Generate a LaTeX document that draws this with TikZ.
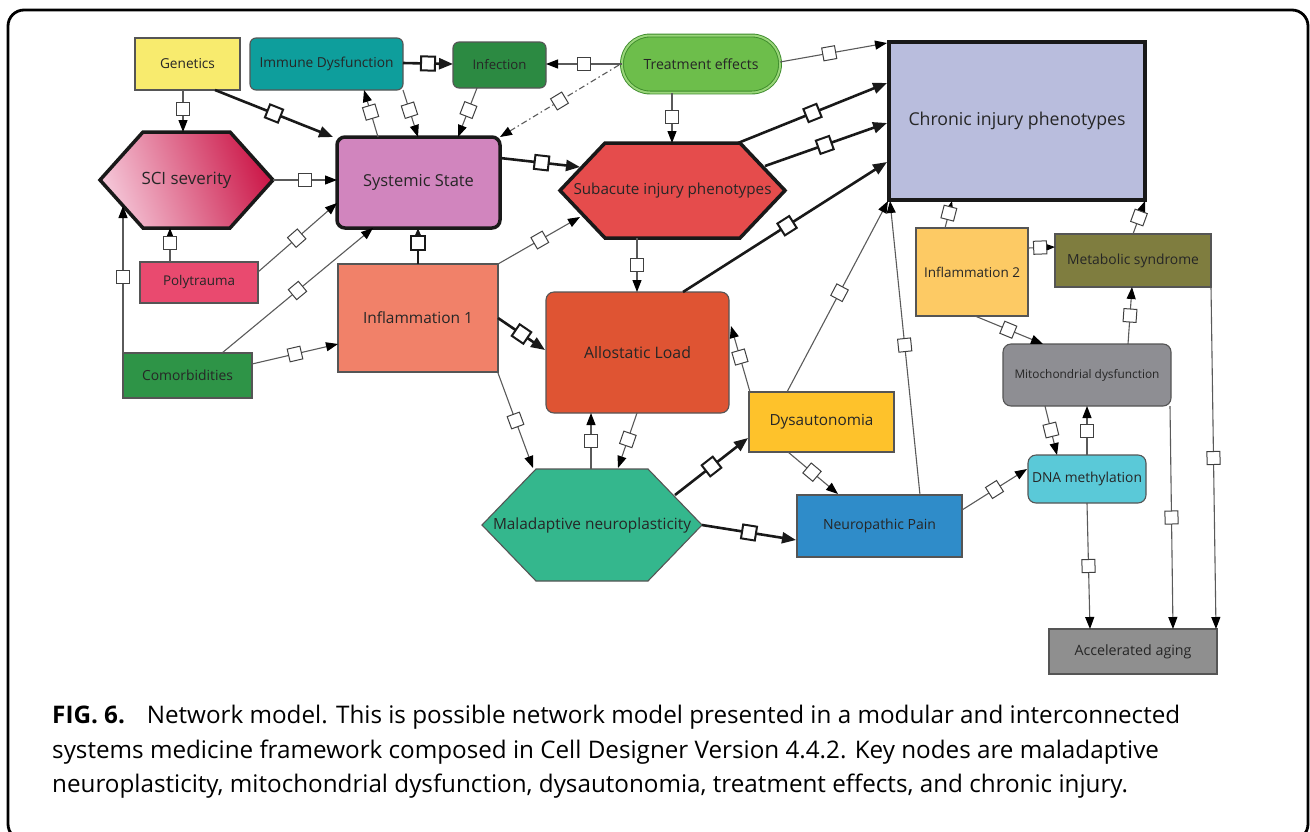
\documentclass[tikz,border=0pt]{standalone}
\usepackage{fontspec}
\setmainfont{Open Sans}
\newfontfamily\capfont{Open Sans}
\usetikzlibrary{arrows.meta,calc}

% node colours
\definecolor{cGen}{HTML}{F8EB6E}
\definecolor{cImm}{HTML}{0E9E9C}
\definecolor{cInf}{HTML}{2C8A42}
\definecolor{cTrt}{HTML}{6DBE4B}
\definecolor{cTrtB}{HTML}{3C8A2A}
\definecolor{cTrtD}{HTML}{9AD67A}
\definecolor{cChr}{HTML}{B9BDDD}
\definecolor{cSciA}{HTML}{F4C4D6}
\definecolor{cSciB}{HTML}{CC1A4A}
\definecolor{cSys}{HTML}{D185BE}
\definecolor{cSub}{HTML}{E54C4C}
\definecolor{cPol}{HTML}{E94A6F}
\definecolor{cCom}{HTML}{2E9447}
\definecolor{cInA}{HTML}{F18169}
\definecolor{cAll}{HTML}{DF5433}
\definecolor{cMal}{HTML}{34B78D}
\definecolor{cDys}{HTML}{FEC22B}
\definecolor{cNeu}{HTML}{2F8CC9}
\definecolor{cInB}{HTML}{FDCA64}
\definecolor{cMet}{HTML}{7F7D3F}
\definecolor{cMit}{HTML}{8E8E93}
\definecolor{cDna}{HTML}{5AC9D8}
\definecolor{cAcc}{HTML}{8F8F8F}
\definecolor{txtc}{HTML}{262626}
\definecolor{bord}{HTML}{555555}
\definecolor{edgec}{HTML}{5A5A5A}
\definecolor{sqc}{HTML}{404040}

% set a label so that it takes the given width
\newbox\fitbox
\newcommand\lbl[2]{\setbox\fitbox=\hbox{\fontsize{10}{12}\selectfont #2}%
  \pgfmathsetmacro\fitsize{#1/\the\wd\fitbox*10}%
  \fontsize{\fitsize}{\fitsize}\selectfont #2}

% hexagon: style, centre, half width, half height, tip depth
\newcommand\hexagon[5]{%
  \path[#1] ($(#2)+(-#3,0)$) -- ($(#2)+(-#3+#5,-#4)$) -- ($(#2)+(#3-#5,-#4)$)
    -- ($(#2)+(#3,0)$) -- ($(#2)+(#3-#5,#4)$) -- ($(#2)+(-#3+#5,#4)$) -- cycle;}

\begin{document}
\begin{tikzpicture}[x=1pt,y=-1pt,
  nbox/.style={draw=bord, line width=1.1pt, inner sep=0pt, text=txtc},
  rnd/.style={rounded corners=6pt},
  heavy/.style={draw=black!90, line width=3.5pt},
  txt/.style={inner sep=0pt, text=txtc},
  te/.style={draw=edgec, line width=1.1pt, -{Triangle[length=12pt,width=9pt,color=black]}},
  tk/.style={draw=black!90, line width=2.6pt, -{Triangle[length=14pt,width=11pt]}},
  dd/.style={te, dash pattern=on 6pt off 3pt on 1.5pt off 3pt},
  sq/.style={draw=sqc, fill=white, solid, line width=1pt, minimum size=13pt, inner sep=0pt, sloped},
  sqk/.style={sq, draw=black!90, line width=2pt, minimum size=14pt}]

\useasboundingbox (0,0) rectangle (1310,831);
\draw[line width=2.8pt, rounded corners=16pt] (8,10) rectangle (1308,840);

% ---------- hexagonal nodes ----------
\coordinate (sciC) at (186.5,180);
\coordinate (subC) at (672.5,190.5);
\coordinate (malC) at (592,525);
\hexagon{draw=black!90, line width=3.5pt, line join=miter, left color=cSciA, right color=cSciB, shading angle=110}{sciC}{86.5}{48}{43}
\hexagon{draw=black!90, line width=3.5pt, fill=cSub}{subC}{112.5}{47.5}{45}
\hexagon{draw=bord, line width=1.1pt, fill=cMal}{malC}{110}{56}{54}
\node[txt] (sci) at (sciC) {\lbl{90}{SCI severity}};
\node[txt] (sub) at (subC) {\lbl{198}{Subacute injury phenotypes}};
\node[txt] (mal) at (malC) {\lbl{198}{Maladaptive neuroplasticity}};

% ---------- box nodes ----------
\node[nbox, fill=cGen, minimum width=105pt, minimum height=52pt] (gen) at (187.5,64) {\lbl{55}{Genetics}};
\node[nbox, rnd, fill=cImm, minimum width=153pt, minimum height=52pt] (imm) at (326.5,64) {\lbl{134}{Immune Dysfunction}};
\node[nbox, rnd, fill=cInf, minimum width=93pt, minimum height=46pt] (inf) at (499.5,65) {\lbl{54}{Infection}};
\node[draw=cTrtB, double=cTrtD, double distance=2pt, line width=0.9pt, fill=cTrt, rounded corners=28pt,
      minimum width=158pt, minimum height=57pt, inner sep=0pt, text=txtc] (trt) at (701,64) {\lbl{115}{Treatment effects}};
\node[nbox, heavy, fill=cChr, minimum width=256pt, minimum height=158pt] (chr) at (1017,121) {\lbl{217}{Chronic injury phenotypes}};
\node[nbox, heavy, rounded corners=8pt, fill=cSys, minimum width=163pt, minimum height=91pt] (sys) at (418.5,182.5) {\lbl{111}{Systemic State}};
\node[nbox, fill=cPol, minimum width=118pt, minimum height=41pt] (pol) at (199,282.5) {\lbl{72}{Polytrauma}};
\node[nbox, fill=cCom, minimum width=129pt, minimum height=45pt] (com) at (187.5,375.5) {\lbl{91}{Comorbidities}};
\node[nbox, fill=cInA, minimum width=160pt, minimum height=108pt] (in1) at (418,318) {\lbl{110}{Inflammation 1}};
\node[nbox, rounded corners=8pt, fill=cAll, minimum width=183pt, minimum height=121pt] (all) at (637.5,352.5) {\lbl{107}{Allostatic Load}};
\node[nbox, fill=cDys, minimum width=145pt, minimum height=60pt] (dys) at (821.5,422) {\lbl{104}{Dysautonomia}};
\node[nbox, fill=cNeu, minimum width=165pt, minimum height=62pt] (neu) at (879.5,526) {\lbl{113}{Neuropathic Pain}};
\node[nbox, fill=cInB, minimum width=112pt, minimum height=88pt] (in2) at (972,272) {\lbl{96}{Inflammation 2}};
\node[nbox, fill=cMet, minimum width=156pt, minimum height=53pt] (met) at (1133,260.5) {\lbl{132}{Metabolic syndrome}};
\node[nbox, rounded corners=8pt, fill=cMit, minimum width=168pt, minimum height=62pt] (mit) at (1087,375) {\lbl{145}{Mitochondrial dysfunction}};
\node[nbox, rounded corners=8pt, fill=cDna, minimum width=118pt, minimum height=48pt] (dna) at (1087,479) {\lbl{110}{DNA methylation}};
\node[nbox, fill=cAcc, minimum width=168pt, minimum height=45pt] (acc) at (1133,651.5) {\lbl{117}{Accelerated aging}};

% ---------- connectors ----------
\draw[te] ($(gen)+(-4.5,26)$) -- node[sq,pos=.45]{} ($(sci)+(-3.5,-48)$);
\draw[tk] ($(gen)+(27.5,26)$) -- node[sqk,pos=.5]{} ($(sys)+(-85.5,-45.5)$);
\draw[te] ($(sys)+(-40.5,-45.5)$) -- node[sq,pos=.53]{} ($(imm)+(37.5,26)$);
\draw[te] ($(imm)+(76.5,26)$) -- node[sq,pos=.43]{} ($(sys)+(-0.5,-45.5)$);
\draw[te] ($(inf)+(-22.5,23)$) -- node[sq,pos=.45]{} ($(sys)+(39.5,-45.5)$);
\draw[tk] ($(imm)+(76.5,-1)$) -- node[sqk,pos=.5]{} ($(inf)+(-46.5,-1)$);
\draw[te] ($(trt)+(-79,0)$) -- node[sq,pos=.5]{} ($(inf)+(46.5,-1)$);
\draw[dd] ($(trt)+(-82,1)$) -- node[sq,pos=.5]{} ($(sys)+(81.5,-45.5)$);
\draw[te] ($(trt)+(-29,29)$) -- node[sq,pos=.48]{} ($(sub)+(-0.5,-47.5)$);
\draw[te] ($(trt)+(79,-2)$) -- node[sq,pos=.46]{} ($(chr)+(-130,-78)$);
\draw[tk] ($(sub)+(65.5,-47.5)$) -- node[sqk,pos=.5]{} ($(chr)+(-130,-38)$);
\draw[tk] ($(sub)+(92.5,-24.5)$) -- node[sqk,pos=.49]{} ($(chr)+(-130,2)$);
\draw[tk] ($(all)+(45.5,-60.5)$) -- node[sqk,pos=.51]{} ($(chr)+(-130,41)$);
\draw[te] ($(dys)+(-34.5,-30)$) -- node[sq,pos=.52]{} ($(chr)+(-129,80)$);
\draw[te] ($(neu)+(40.5,-31)$) -- node[sq,pos=.51]{} ($(chr)+(-127,80)$);
\draw[te] ($(sub)+(-35.5,47.5)$) -- node[sq,pos=.5]{} ($(all)+(-0.5,-60.5)$);
\draw[tk] ($(sys)+(81.5,-24.5)$) -- node[sqk,pos=.52]{} ($(sub)+(-92.5,-23.5)$);
\draw[te] ($(sci)+(86.5,0)$) -- node[sq,pos=.5]{} ($(sys)+(-81.5,-2.5)$);
\draw[te] ($(pol)+(-29,-20.5)$) -- node[sq,pos=.56]{} ($(sci)+(-16.5,48)$);
\draw[te] ($(pol)+(59,-10.5)$) -- node[sq,pos=.49]{} ($(sys)+(-81.5,20.5)$);
\draw[te] ($(com)+(34.5,-22.5)$) -- node[sq,pos=.5]{} ($(sys)+(-45.5,45.5)$);
\draw[te] ($(com)+(-64.5,-22.5)$) -- node[sq,pos=.52]{} ($(sci)+(-63.5,26)$);
\draw[te] ($(com)+(64.5,-11.5)$) -- node[sq,pos=.5]{} ($(in1)+(-80,26)$);
\draw[tk] ($(in1)+(0,-54)$) -- node[sqk,pos=.58]{} ($(sys)+(-0.5,45.5)$);
\draw[te] ($(in1)+(80,-54)$) -- node[sq,pos=.51]{} ($(sub)+(-92.5,26.5)$);
\draw[tk] ($(in1)+(80,0)$) -- node[sqk,pos=.5]{} ($(all)+(-92.5,-2.5)$);
\draw[te] ($(in1)+(80,55)$) -- node[sq,pos=.5]{} ($(mal)+(-59,-57)$);
\draw[te] ($(mal)+(-1,-56)$) -- node[sq,pos=.5]{} ($(all)+(-46.5,60.5)$);
\draw[te] ($(all)+(-0.5,60.5)$) -- node[sq,pos=.48]{} ($(mal)+(26,-57)$);
\draw[te] ($(dys)+(-71.5,-30)$) -- node[sq,pos=.53]{} ($(all)+(93.5,-26.5)$);
\draw[tk] ($(mal)+(83,-30)$) -- node[sqk,pos=.5]{} ($(dys)+(-73.5,16)$);
\draw[tk] ($(mal)+(110,0)$) -- node[sqk,pos=.5]{} ($(neu)+(-83.5,14)$);
\draw[te] ($(dys)+(-33.5,30)$) -- node[sq,pos=.48]{} ($(neu)+(-41.5,-32)$);
\draw[te] ($(neu)+(82.5,-16)$) -- node[sq,pos=.5]{} ($(dna)+(-60,-10)$);
\draw[te] ($(in2)+(-27,-44)$) -- node[sq,pos=.55]{} ($(chr)+(-65,80)$);
\draw[te] ($(met)+(0,-26.5)$) -- node[sq,pos=.5]{} ($(chr)+(128,80)$);
\draw[te] ($(in2)+(56,-24)$) -- node[sq,pos=.45]{} ($(met)+(-78,-13.5)$);
\draw[te] ($(in2)+(3,44)$) -- node[sq,pos=.49]{} ($(mit)+(-44,-31)$);
\draw[te] ($(mit)+(41,-31)$) -- node[sq,pos=.5]{} ($(met)+(-1,26.5)$);
\draw[te] ($(mit)+(-42,31)$) -- node[sq,pos=.49]{} ($(dna)+(-30,-24)$);
\draw[te] ($(dna)+(0,-24)$) -- node[sq,pos=.5]{} ($(mit)+(0,31)$);
\draw[te] ($(dna)+(0,24)$) -- node[sq,pos=.5]{} ($(acc)+(-43,-22.5)$);
\draw[te] ($(mit)+(83,31)$) -- node[sq,pos=.5]{} ($(acc)+(40,-22.5)$);
\draw[te] ($(met)+(78,26.5)$) -- node[sq,pos=.5]{} ($(acc)+(83,-22.5)$);

% ---------- caption ----------
\node[anchor=base west, inner sep=0pt] (cap1) at (52,723)
  {\capfont\lbl{1128}{\textbf{FIG. 6.}\hspace{0.9em}Network model. This is possible network model presented in a modular and interconnected}\global\let\capsz\fitsize};
\node[anchor=base west, inner sep=0pt] (cap2) at (52,758)
  {\capfont\fontsize{\capsz}{\capsz}\selectfont systems medicine framework composed in Cell Designer Version 4.4.2. Key nodes are maladaptive};
\node[anchor=base west, inner sep=0pt] (cap3) at (52,792.5)
  {\capfont\fontsize{\capsz}{\capsz}\selectfont neuroplasticity, mitochondrial dysfunction, dysautonomia, treatment effects, and chronic injury.};
\end{tikzpicture}
\end{document}
